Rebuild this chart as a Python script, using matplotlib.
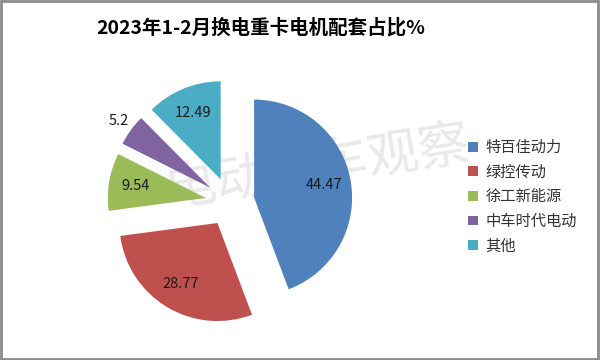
import matplotlib
matplotlib.use('Agg')
from matplotlib import pyplot as plt
from matplotlib.patches import Rectangle
import math

plt.rcParams['font.family'] = ['Noto Sans CJK SC', 'DejaVu Sans']

# data
labels = ['特百佳动力', '绿控传动', '徐工新能源', '中车时代电动', '其他']
values = [44.47, 28.77, 9.54, 5.2, 12.49]
colors = ['#4f81bd', '#c0504d', '#9bbb59', '#8064a2', '#4bacc6']
title = '2023年1-2月换电重卡电机配套占比%'

fig = plt.figure(figsize=(6, 3.6), dpi=100)
ax = fig.add_axes([0, 0, 1, 1])

wedges, texts, autotexts = ax.pie(values, colors=colors, startangle=90, counterclock=False,
                                  explode=[0.25] * len(values), autopct='%s',
                                  pctdistance=0.73, textprops={'fontsize': 10.5, 'color': '#1a1a1a'})
for w in wedges:
    w.set_zorder(2)
for t, v in zip(autotexts, values):
    t.set_text(str(v))
    t.set_zorder(3)

# small slice label sits outside
w = wedges[3]
mid = math.radians((w.theta1 + w.theta2) / 2)
cx, cy = w.center
autotexts[3].set_position((cx + 1.15 * math.cos(mid), cy + 1.15 * math.sin(mid)))

# pie centre at (230, 202) px, radius 98 px
r = 98.0
ax.set_aspect('auto')
ax.set_xlim(-230 / r, 370 / r)
ax.set_ylim(-158 / r, 202 / r)
ax.axis('off')

fig.text(0.435, 0.922, title, fontsize=14, fontweight='bold', ha='center', va='center', color='black')

# watermark, behind the slices
ax.text(0.53, 0.535, '电动卡车观察', fontsize=37, color='#e9e9e9', rotation=9,
        ha='center', va='center', zorder=1, transform=fig.transFigure)

leg = ax.legend(wedges, labels, loc='upper left', bbox_to_anchor=(0.768, 0.635),
                frameon=False, fontsize=11, handlelength=0.6, handleheight=0.6,
                handletextpad=0.5, labelspacing=0.5, borderpad=0)
for t in leg.get_texts():
    t.set_color('#333333')

fig.patches.append(Rectangle((0.002, 0.003), 0.994, 0.994, transform=fig.transFigure,
                             fill=False, edgecolor='#8c8c8c', linewidth=2))

fig.savefig('out.png', dpi=100)
